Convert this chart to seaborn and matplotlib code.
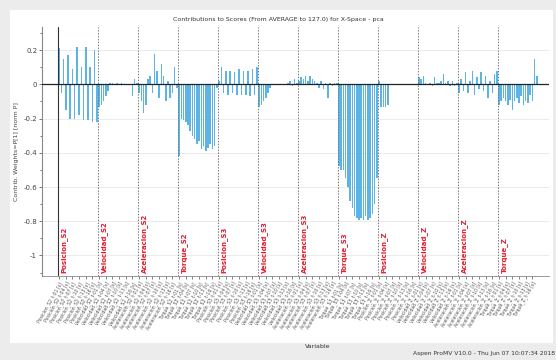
import numpy as np
import pandas as pd
import seaborn as sns
import matplotlib.pyplot as plt
from matplotlib.patches import Rectangle

# data (18 lags per variable)
groups = ["Posicion_S2", "Velocidad_S2", "Aceleracion_S2", "Torque_S2",
          "Posicion_S3", "Velocidad_S3", "Aceleracion_S3", "Torque_S3",
          "Posicion_Z", "Velocidad_Z", "Aceleracion_Z", "Torque_Z"]
lags = ["t-%02d [s]" % i for i in range(1, 19)]

posicion_s2 = [0.21, -0.05, 0.15, -0.15, 0.17, -0.2, 0.09, -0.2, 0.22,
               -0.18, 0.1, -0.21, 0.22, -0.21, 0.1, -0.22, 0.2, -0.22]
velocidad_s2 = [-0.13, -0.12, -0.1, -0.07, -0.04, 0.005, 0.005, 0.004, 0.005,
                0.004, 0.005, 0.004, 0.003, 0.004, 0.003, -0.07, 0.03, 0.01]
aceleracion_s2 = [-0.05, -0.1, -0.17, -0.12, 0.03, 0.05, -0.05, 0.18, 0.08,
                  -0.08, 0.12, 0.05, -0.1, 0.02, -0.08, -0.05, 0.1, -0.02]
torque_s2 = [-0.42, -0.2, -0.21, -0.22, -0.24, -0.27, -0.3, -0.32, -0.35,
             -0.33, -0.38, -0.36, -0.39, -0.37, -0.35, -0.38, -0.36, -0.02]
posicion_s3 = [0.02, 0.1, -0.05, 0.08, -0.06, 0.08, -0.05, 0.07, -0.06,
               0.09, -0.06, 0.08, -0.06, 0.08, -0.07, 0.09, -0.06, 0.1]
velocidad_s3 = [-0.13, -0.12, -0.1, -0.08, -0.05, -0.02, 0.003, 0.003, 0.002,
                0.003, 0.002, 0.003, 0.004, 0.01, 0.02, -0.01, 0.03, 0.01]
aceleracion_s3 = [0.02, 0.04, 0.03, 0.05, 0.02, 0.05, 0.03, 0.02, 0.01,
                  -0.02, 0.02, -0.03, 0.01, -0.08, 0.01, -0.01, 0.01, 0.005]
torque_s3 = [-0.48, -0.5, -0.5, -0.55, -0.6, -0.68, -0.72, -0.77, -0.78,
             -0.79, -0.78, -0.79, -0.77, -0.79, -0.78, -0.76, -0.7, -0.55]
posicion_z = [0.02, -0.13, -0.13, -0.13, -0.12, 0.0, 0.0, 0.0, 0.0,
              0.0, 0.0, 0.0, 0.0, 0.0, 0.0, 0.0, 0.0, 0.0]
velocidad_z = [0.04, 0.03, 0.05, 0.01, 0.0, 0.01, -0.01, 0.04, 0.01,
               0.005, 0.02, 0.06, 0.01, 0.02, -0.01, 0.02, -0.01, 0.01]
aceleracion_z = [-0.05, 0.03, -0.04, 0.07, -0.05, 0.02, 0.08, -0.06, 0.04,
                 -0.03, 0.07, -0.04, 0.05, -0.08, 0.02, -0.05, 0.06, 0.08]
torque_z = [-0.12, -0.1, -0.08, -0.1, -0.12, -0.09, -0.15, -0.1, -0.08,
            -0.11, -0.07, -0.12, -0.1, -0.11, -0.06, -0.1, 0.15, 0.05]

values = (posicion_s2 + velocidad_s2 + aceleracion_s2 + torque_s2 +
          posicion_s3 + velocidad_s3 + aceleracion_s3 + torque_s3 +
          posicion_z + velocidad_z + aceleracion_z + torque_z)
n_lag = len(lags)
labels = [f"{g}_{l}" for g in groups for l in lags]

df = pd.DataFrame({"pos": np.arange(len(values)), "val": values})

sns.set_style("white")
plt.rcParams["font.family"] = ["DejaVu Sans"]

fig = plt.figure(figsize=(5.56, 3.6), dpi=100)
fig.patch.set_facecolor("#ececec")
fig.patches.append(Rectangle((10 / 556, 17 / 360), 543 / 556, 333 / 360,
                             transform=fig.transFigure, facecolor="white",
                             edgecolor="none", zorder=-5))

ax = fig.add_axes([42 / 556, 1 - 276 / 360, 507 / 556, 249 / 360])
ax.set_zorder(2)
ax.set_facecolor("white")

sns.barplot(data=df, x="pos", y="val", native_scale=True, color="#5cb3e6",
            width=0.7, saturation=1, edgecolor="none", ax=ax)

ax.set_xlim(-7.7, len(values) + 4.5)
ax.set_ylim(-1.12, 0.335)

# group separators and labels
for k, g in enumerate(groups):
    x0 = k * n_lag - 0.5
    if k == 0:
        ax.axvline(x0, color="#333333", lw=0.8, zorder=3)
    else:
        ax.axvline(x0, color="#777777", lw=0.7, ls=(0, (1.5, 1.5)), zorder=3)
    ax.text(x0 + 1.3, -1.105, g, rotation=90, color="#e8192c", fontsize=5,
            fontweight="bold", ha="left", va="bottom", zorder=4)

ax.axhline(0, color="#222222", lw=0.9, zorder=3)

ax.set_yticks([0.2, 0, -0.2, -0.4, -0.6, -0.8, -1])
ax.set_yticklabels(["0.2", "0", "-0.2", "-0.4", "-0.6", "-0.8", "-1"])
ax.set_yticks(np.arange(-1.1, 0.35, 0.1), minor=True)
ax.yaxis.grid(True, color="#e8e8e8", lw=0.6)
ax.set_axisbelow(True)

tick_pos = list(range(0, len(values), 3))
ax.set_xticks(tick_pos)
ax.set_xticklabels([labels[i] for i in tick_pos], rotation=60, ha="right",
                   rotation_mode="anchor", fontsize=3.3, color="#555555")
ax.tick_params(axis="y", labelsize=5, colors="#444444", length=2, width=0.5,
               left=True, which="both", pad=1.5)
ax.tick_params(axis="y", which="minor", length=1.2)
ax.tick_params(axis="x", length=2.5, width=0.4, bottom=True, pad=1)

for s in ["top", "right"]:
    ax.spines[s].set_visible(False)
ax.spines["left"].set_color("#888888")
ax.spines["left"].set_linewidth(0.8)
ax.spines["bottom"].set_color("#888888")
ax.spines["bottom"].set_linewidth(0.6)

ax.set_xlabel("")
ax.set_ylabel("Contrib. Weights=P[1] [norm P]", fontsize=4.5, color="#444444",
              labelpad=3)

fig.text(0.5, 1 - 19 / 360, "Contributions to Scores (From AVERAGE to 127.0) for X-Space - pca",
         ha="center", va="center", fontsize=4.5, color="#333333")
fig.text(318 / 556, 1 - 346 / 360, "Variable", ha="center", va="center",
         fontsize=4.5, color="#333333")
fig.text(555 / 556, 1 - 354 / 360, "Aspen ProMV V10.0 - Thu Jun 07 10:07:34 2018",
         ha="right", va="center", fontsize=4.3, color="#333333")

fig.savefig("out.png", dpi=100, facecolor=fig.get_facecolor())
